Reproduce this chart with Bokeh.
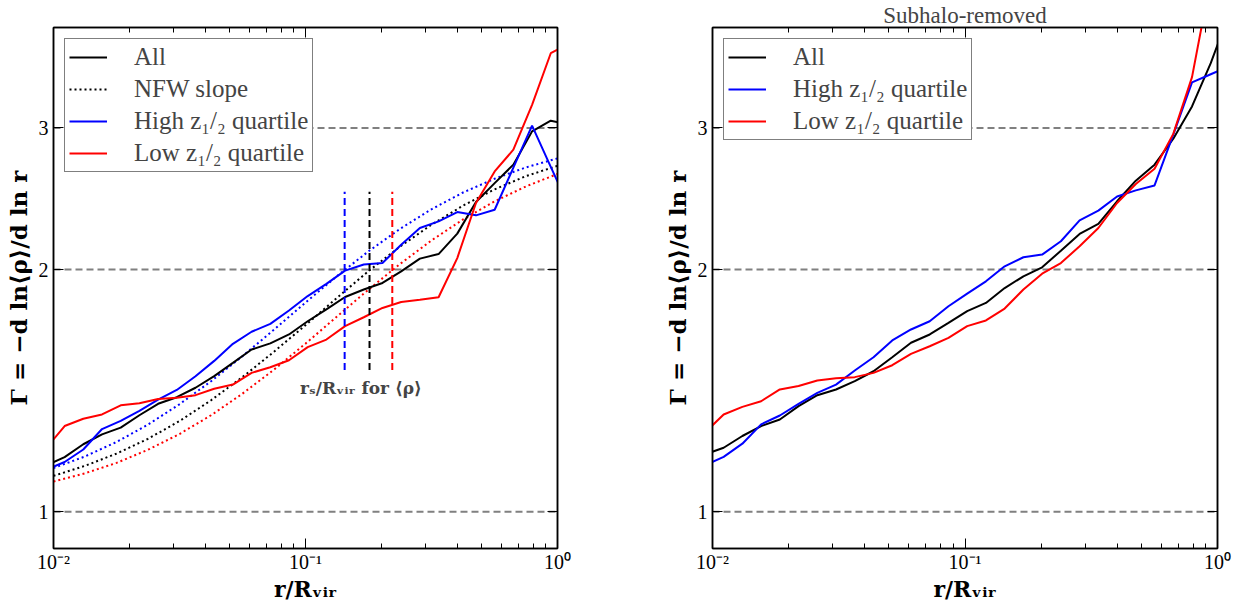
from bokeh.plotting import figure
from bokeh.models import (FixedTicker, LogAxis, Span, Label, Legend, LegendItem,
                          Range1d, CustomJSTickFormatter, BasicTickFormatter)
from bokeh.layouts import row
from bokeh.embed import file_html
from bokeh.resources import INLINE

# ---------------- data ----------------
R = [0.00933, 0.01107, 0.01313, 0.01558, 0.01848, 0.02192, 0.02601, 0.03085,
     0.03660, 0.04342, 0.05151, 0.06111, 0.07249, 0.08600, 0.10202, 0.12103,
     0.14358, 0.17033, 0.20206, 0.23971, 0.28437, 0.33735, 0.40020, 0.47476,
     0.56322, 0.66815, 0.79263, 0.94030, 1.11549]

# left panel (all particles)
ALL_L = [1.141, 1.169, 1.213, 1.248, 1.272, 1.318, 1.362, 1.388, 1.426, 1.474,
         1.531, 1.591, 1.619, 1.661, 1.725, 1.785, 1.849, 1.889, 1.925, 1.990,
         2.064, 2.091, 2.217, 2.427, 2.562, 2.701, 2.971, 3.063, 3.027]
HIGH_L = [1.127, 1.153, 1.195, 1.267, 1.297, 1.335, 1.378, 1.417, 1.474, 1.540,
          1.617, 1.674, 1.712, 1.779, 1.854, 1.920, 1.994, 2.029, 2.038, 2.148,
          2.253, 2.296, 2.358, 2.336, 2.374, 2.678, 3.020, 2.684, 2.390]
LOW_L = [1.198, 1.278, 1.305, 1.321, 1.356, 1.364, 1.381, 1.386, 1.396, 1.422,
         1.439, 1.488, 1.512, 1.543, 1.602, 1.637, 1.701, 1.745, 1.792, 1.823,
         1.834, 1.848, 2.067, 2.420, 2.649, 2.819, 3.206, 3.716, 3.820]

# NFW slope curves (dotted)
NFW_R = [0.01, 0.0133, 0.0178, 0.0237, 0.0316, 0.0422, 0.0562, 0.075, 0.1,
         0.133, 0.178, 0.237, 0.316, 0.422, 0.562, 0.75, 1.0]
NFW_ALL = [1.108, 1.140, 1.181, 1.232, 1.296, 1.376, 1.470, 1.581, 1.706,
           1.843, 1.992, 2.136, 2.274, 2.402, 2.516, 2.614, 2.692]
NFW_HIGH = [1.133, 1.171, 1.221, 1.283, 1.360, 1.453, 1.561, 1.684, 1.820,
            1.962, 2.108, 2.247, 2.377, 2.494, 2.594, 2.680, 2.750]
NFW_LOW = [1.090, 1.116, 1.150, 1.194, 1.249, 1.318, 1.402, 1.502, 1.618,
           1.747, 1.889, 2.032, 2.174, 2.309, 2.431, 2.538, 2.630]

# scale radii r_s/R_vir  (high, all, low)
RS = [0.143, 0.1795, 0.221]
RS_COLORS = ["blue", "black", "red"]

# right panel (subhalo-removed)
ALL_R = [1.178, 1.201, 1.242, 1.278, 1.302, 1.353, 1.396, 1.419, 1.453, 1.495,
         1.556, 1.622, 1.661, 1.717, 1.776, 1.818, 1.897, 1.962, 2.013, 2.111,
         2.215, 2.279, 2.432, 2.580, 2.701, 2.909, 3.191, 3.612, 4.170]
HIGH_R = [1.142, 1.170, 1.215, 1.284, 1.317, 1.362, 1.405, 1.439, 1.498, 1.556,
          1.633, 1.685, 1.725, 1.801, 1.867, 1.934, 2.019, 2.072, 2.088, 2.169,
          2.303, 2.368, 2.466, 2.509, 2.545, 2.943, 3.418, 3.499, 3.580]
LOW_R = [1.254, 1.321, 1.350, 1.372, 1.419, 1.433, 1.456, 1.465, 1.470, 1.488,
         1.521, 1.571, 1.606, 1.645, 1.701, 1.729, 1.789, 1.889, 1.977, 2.038,
         2.138, 2.253, 2.420, 2.555, 2.670, 2.950, 3.470, 4.600, 5.300]

X_TICKS = [0.01, 0.1, 1.0]
X_TICK_LABELS = ["10\u207b\u00b2", "10\u207b\u00b9", "10\u2070"]
X_MINOR = [0.02, 0.03, 0.04, 0.05, 0.06, 0.07, 0.08, 0.09,
           0.2, 0.3, 0.4, 0.5, 0.6, 0.7, 0.8, 0.9]
Y_TICKS = [1, 2, 3]
H_LINES = [1, 2, 3]

LEG_LEFT = ["All", "NFW slope", "High z\u2081/\u2082 quartile", "Low z\u2081/\u2082 quartile"]
LEG_RIGHT = ["All", "High z\u2081/\u2082 quartile", "Low z\u2081/\u2082 quartile"]
TITLE_RIGHT = "Subhalo-removed"
XLABEL = "r/R\u1d65\u1d62\u1d63"
YLABEL = "\u0393 = \u2212d ln\u27e8\u03c1\u27e9/d ln r"
RS_TEXT = "r\u209b/R\u1d65\u1d62\u1d63 for \u27e8\u03c1\u27e9"

FONT = "Liberation Serif"
BOLD_FONT = "DejaVu Serif"


def make_fig(width, bl, br, title=None):
    p = figure(width=width, height=605, x_axis_type="log", y_axis_type="log",
               x_range=Range1d(0.01, 1.0), y_range=Range1d(0.9, 4.0),
               min_border_left=bl, min_border_right=br,
               min_border_top=27, min_border_bottom=57,
               output_backend="svg", toolbar_location=None)
    if title:
        p.title.text = title
        p.title.align = "center"
        p.title.text_font = FONT
        p.title.text_font_size = "23px"
        p.title.text_font_style = "normal"
        p.title.standoff = 0
    p.xgrid.visible = False
    p.ygrid.visible = False
    p.outline_line_color = "black"
    p.outline_line_width = 1.5
    p.add_layout(LogAxis(), "above")
    p.add_layout(LogAxis(), "right")
    fx = CustomJSTickFormatter(args=dict(t=X_TICKS, l=X_TICK_LABELS), code="""
        let best = 0, d = 1e9;
        for (let i = 0; i < t.length; i++) {
            const e = Math.abs(Math.log10(tick) - Math.log10(t[i]));
            if (e < d) { d = e; best = i; }
        }
        return l[best];""")
    for ax in p.xaxis:
        ax.ticker = FixedTicker(ticks=X_TICKS, minor_ticks=X_MINOR)
        ax.formatter = fx
    for ax in p.yaxis:
        ax.ticker = FixedTicker(ticks=Y_TICKS, minor_ticks=[])
        ax.formatter = BasicTickFormatter()
    for ax in p.axis:
        ax.major_tick_in = 10
        ax.major_tick_out = 0
        ax.minor_tick_in = 5
        ax.minor_tick_out = 0
        ax.major_tick_line_color = "black"
        ax.minor_tick_line_color = "black"
        ax.axis_line_color = "black"
        ax.axis_line_width = 1.5
        ax.major_label_text_font = FONT
        ax.major_label_text_font_size = "20px"
        ax.major_label_text_color = "black"
        ax.axis_label_text_font = BOLD_FONT
        ax.axis_label_text_font_size = "22px"
        ax.axis_label_text_font_style = "bold"
        ax.axis_label_text_color = "black"
    for ax in p.above + p.right:
        ax.major_label_text_font_size = "1px"
        ax.major_label_text_color = None
        ax.major_label_standoff = 0
    p.below[0].major_label_standoff = 2
    p.below[0].axis_label_standoff = 0
    p.below[0].axis_label = XLABEL
    p.left[0].major_label_standoff = 5
    p.left[0].axis_label_standoff = 4
    p.left[0].axis_label = YLABEL
    p.left[0].axis_label_text_font_size = "23px"
    for h in H_LINES:
        p.add_layout(Span(location=h, dimension="width", line_color="#808080",
                          line_width=2, line_dash="7 4", level="underlay"))
    return p


def style_legend(leg):
    leg.location = "top_left"
    leg.margin = 11
    leg.padding = 4
    leg.spacing = 4
    leg.glyph_width = 38
    leg.glyph_height = 26
    leg.label_standoff = 27
    leg.label_text_font = FONT
    leg.label_text_font_size = "25px"
    leg.border_line_color = "black"
    leg.border_line_width = 1
    leg.background_fill_alpha = 1.0


# ---------------- left panel ----------------
p1 = make_fig(620, 53, 63)
n_all = p1.line(NFW_R, NFW_ALL, color="black", line_width=2, line_dash="2 3")
n_hi = p1.line(NFW_R, NFW_HIGH, color="blue", line_width=2, line_dash="2 3")
n_lo = p1.line(NFW_R, NFW_LOW, color="red", line_width=2, line_dash="2 3")
l_all = p1.line(R, ALL_L, color="black", line_width=2)
l_hi = p1.line(R, HIGH_L, color="blue", line_width=2)
l_lo = p1.line(R, LOW_L, color="red", line_width=2)
p1.segment(x0=RS, y0=[1.5] * 3, x1=RS, y1=[2.5] * 3, line_color=RS_COLORS,
           line_width=2, line_dash="7 4")
p1.add_layout(Label(x=0.166, y=1.425, text=RS_TEXT, text_font=BOLD_FONT,
                    text_font_style="bold", text_font_size="17px",
                    text_align="center", text_baseline="middle"))
leg1 = Legend(items=[LegendItem(label=LEG_LEFT[0], renderers=[l_all]),
                     LegendItem(label=LEG_LEFT[1], renderers=[n_all]),
                     LegendItem(label=LEG_LEFT[2], renderers=[l_hi]),
                     LegendItem(label=LEG_LEFT[3], renderers=[l_lo])])
style_legend(leg1)
p1.add_layout(leg1)

# ---------------- right panel ----------------
p2 = make_fig(631, 92, 34, title=TITLE_RIGHT)
r_all = p2.line(R, ALL_R, color="black", line_width=2)
r_hi = p2.line(R, HIGH_R, color="blue", line_width=2)
r_lo = p2.line(R, LOW_R, color="red", line_width=2)
leg2 = Legend(items=[LegendItem(label=LEG_RIGHT[0], renderers=[r_all]),
                     LegendItem(label=LEG_RIGHT[1], renderers=[r_hi]),
                     LegendItem(label=LEG_RIGHT[2], renderers=[r_lo])])
style_legend(leg2)
p2.add_layout(leg2)

layout = row(p1, p2)
open("out.html", "w").write(file_html(layout, INLINE))
